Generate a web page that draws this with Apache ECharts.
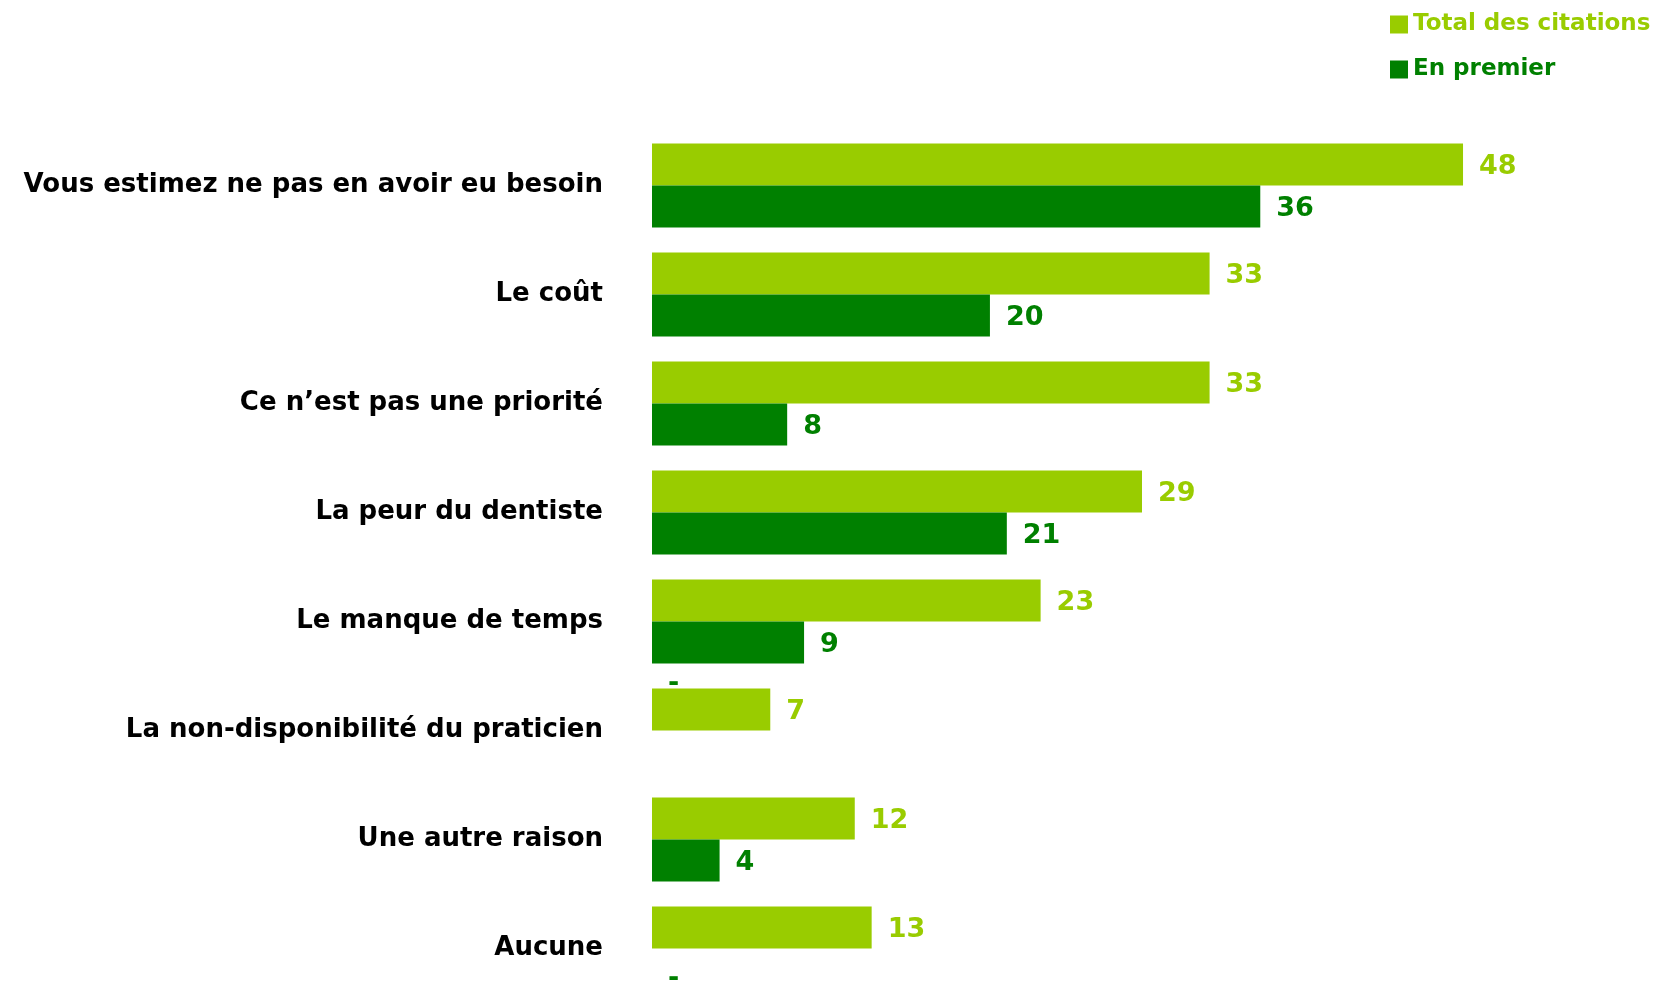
<!DOCTYPE html>
<html>
<head>
<meta charset="utf-8">
<script src="https://cdn.jsdelivr.net/npm/echarts@6/dist/echarts.min.js"></script>
<style>
  html, body { margin: 0; padding: 0; background: #fff; }
  #chart { width: 1659px; height: 981px; }
</style>
</head>
<body>
<div id="chart"></div>
<script>
// Données (%)
const categories = [
    'Vous estimez ne pas en avoir eu besoin',
    'Le coût',
    'Ce n\u2019est pas une priorité',
    'La peur du dentiste',
    'Le manque de temps',
    'La non-disponibilité du praticien',
    'Une autre raison',
    'Aucune'
];
const totalCitations = [48, 33, 33, 29, 23, 7, 12, 13];
const enPremier = [36, 20, 8, 21, 9, 0, 4, 0];

const lightGreen = '#99CC00';
const darkGreen = '#008000';
const fontFamily = '"DejaVu Sans", sans-serif';

const chart = echarts.init(document.getElementById('chart'));

const option = {
    backgroundColor: '#ffffff',
    textStyle: { fontFamily: fontFamily },
    animation: false,
    legend: {
        orient: 'vertical',
        left: 1385,
        top: 8,
        itemWidth: 18,
        itemHeight: 18,
        itemGap: 22,
        icon: 'rect',
        data: [
            { name: 'Total des citations', textStyle: { color: lightGreen } },
            { name: 'En premier', textStyle: { color: darkGreen } }
        ],
        textStyle: { fontFamily: fontFamily, fontSize: 23, fontWeight: 'bold' }
    },
    // la dernière barre (vide) dépasse le bas de l'image
    grid: { left: 652, width: 980, top: 131, height: 872, outerBoundsMode: 'none', containLabel: false },
    xAxis: {
        type: 'value',
        min: 0,
        max: 58,
        show: false
    },
    yAxis: {
        type: 'category',
        data: categories,
        inverse: true,
        axisLine: { show: false },
        axisTick: { show: false },
        axisLabel: {
            margin: 49,
            color: '#000000',
            fontSize: 26,
            fontWeight: 'bold',
            fontFamily: fontFamily,
            padding: [6, 0, 0, 0]
        }
    },
    series: [
        {
            name: 'Total des citations',
            type: 'bar',
            data: totalCitations,
            barWidth: 42,
            barGap: '0%',
            itemStyle: { color: lightGreen },
            label: {
                show: true,
                position: 'right',
                distance: 16,
                offset: [0, 2],
                color: lightGreen,
                fontSize: 27,
                fontWeight: 'bold',
                fontFamily: fontFamily
            }
        },
        {
            name: 'En premier',
            type: 'bar',
            data: enPremier.map((v, i) => {
                if (v !== 0) return v;
                // les valeurs nulles sont affichées par un tiret
                return {
                    value: v,
                    label: i === 5 ? { offset: [0, -68] } : { offset: [0, 9] }
                };
            }),
            barWidth: 42,
            itemStyle: { color: darkGreen },
            label: {
                show: true,
                position: 'right',
                distance: 16,
                offset: [0, 2],
                color: darkGreen,
                fontSize: 27,
                fontWeight: 'bold',
                fontFamily: fontFamily,
                formatter: p => (p.value === 0 ? '-' : p.value)
            }
        }
    ]
};

chart.setOption(option);
</script>
</body>
</html>
